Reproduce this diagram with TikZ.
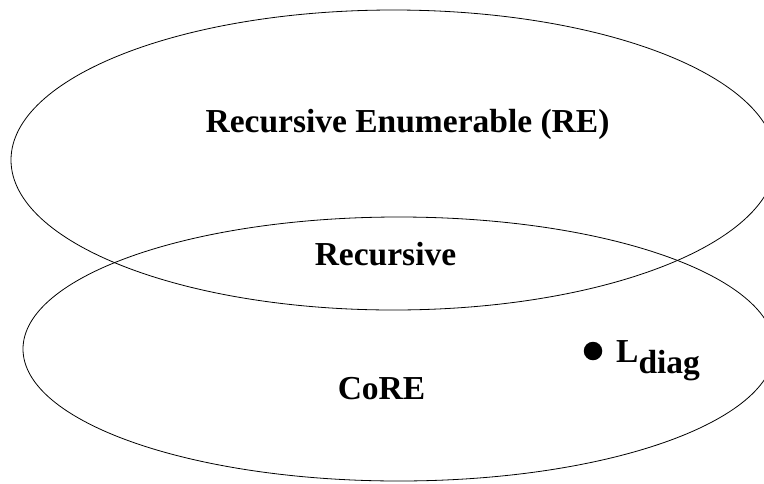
\documentclass[tikz,border=0pt]{standalone}
\usepackage{fontspec}
\setmainfont{Liberation Serif}
\usetikzlibrary{shapes.geometric}
\tikzset{
  setline/.style={draw, line width=0.8pt},
  setshape/.style={setline, ellipse, inner sep=0pt, outer sep=0pt},
  label/.style={inner sep=0pt, anchor=base, font=\fontsize{33.5}{40}\selectfont\bfseries}
}
\begin{document}
\begin{tikzpicture}[x=1pt,y=-1pt]
  \useasboundingbox (0,0) rectangle (764,483);
  \clip (0,0) rectangle (764,483);
  % the two overlapping sets
  \node[setshape, minimum width=764.8pt, minimum height=300pt] (re) at (393.4,160) {};
  \node[setshape, minimum width=751.6pt, minimum height=264pt] (core) at (398.8,349) {};
  % set labels
  \node[label] (relabel) at (407.5,132) {Recursive Enumerable (RE)};
  \node[label] (reclabel) at (385.5,265) {Recursive};
  \node[label] (corelabel) at (381.5,399) {CoRE};
  % the diagonal language as a point in CoRE
  \node[circle, fill=black, inner sep=0pt, minimum size=18.5pt] (dot) at (593,351) {};
  \node[label, anchor=base west] (ldiag) at (616,362) {L\raisebox{-11pt}{diag}};
\end{tikzpicture}
\end{document}
